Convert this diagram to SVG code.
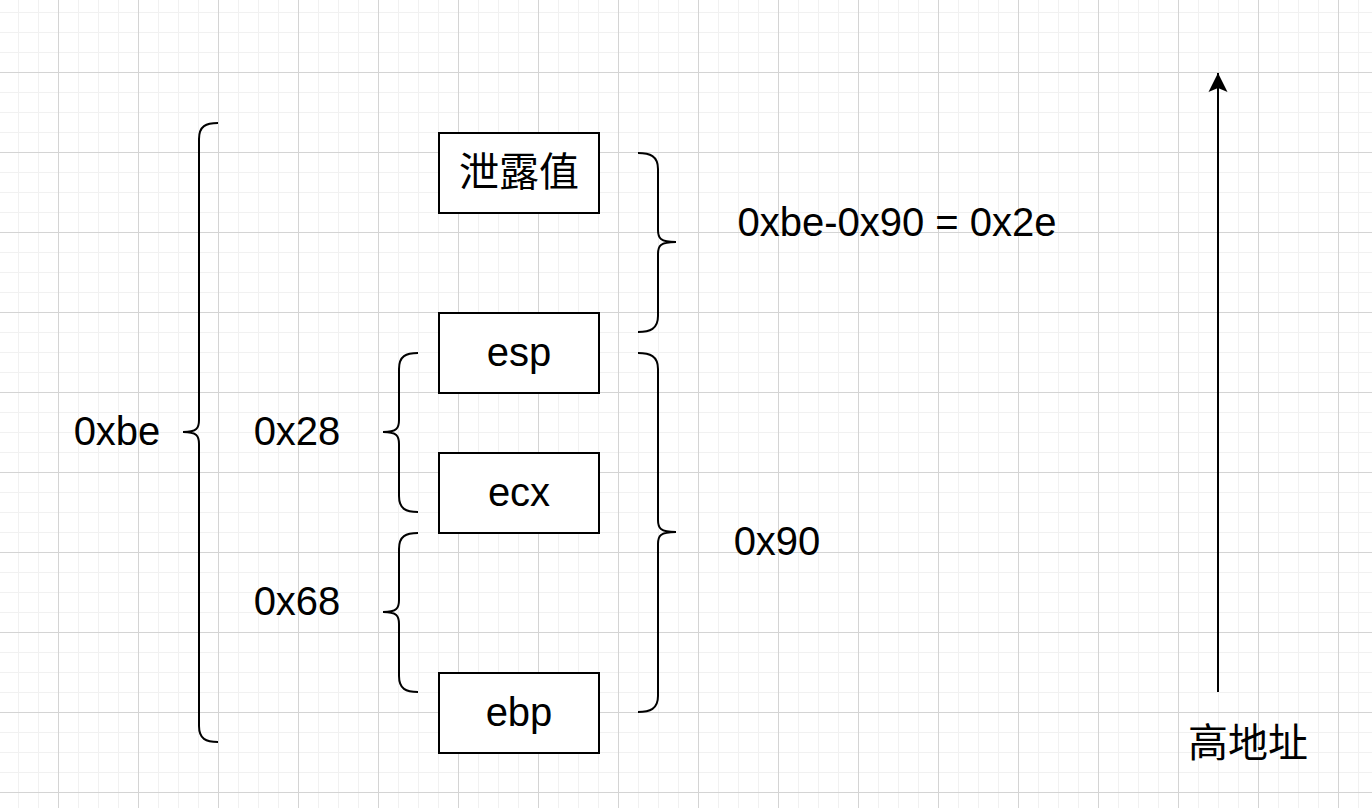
<svg xmlns="http://www.w3.org/2000/svg" width="1372" height="808" viewBox="0 0 1372 808">
  <defs>
    <pattern id="grid" patternUnits="userSpaceOnUse" x="58" y="72" width="80" height="80">
      <rect x="20" y="0" width="1" height="80" fill="#f1f1f1"/>
      <rect x="40" y="0" width="1" height="80" fill="#f1f1f1"/>
      <rect x="60" y="0" width="1" height="80" fill="#f1f1f1"/>
      <rect x="0" y="20" width="80" height="1" fill="#f1f1f1"/>
      <rect x="0" y="40" width="80" height="1" fill="#f1f1f1"/>
      <rect x="0" y="60" width="80" height="1" fill="#f1f1f1"/>
      <rect x="0" y="0" width="1" height="80" fill="#d4d4d4"/>
      <rect x="0" y="0" width="80" height="1" fill="#d4d4d4"/>
    </pattern>
    <marker id="arrow" markerUnits="userSpaceOnUse" markerWidth="24" markerHeight="24" viewBox="0 0 24 24" refX="20" refY="12" orient="auto">
      <path d="M20,12 L1,2.5 L5,12 L1,21.5 Z" fill="#000"/>
    </marker>
    <style>
      .box { fill: #fff; stroke: #000; stroke-width: 2; }
      .brace { fill: none; stroke: #000; stroke-width: 2; }
      .lbl { font-family: "Liberation Sans", Arial, sans-serif; font-size: 40px; fill: #000; text-anchor: middle; }
      .cjk { font-family: "Liberation Sans", "Noto Sans CJK SC", sans-serif; font-size: 40px; fill: #000; text-anchor: middle; }
    </style>
  </defs>
  <rect x="0" y="0" width="1372" height="808" fill="#fff"/>
  <rect x="0" y="0" width="1372" height="808" fill="url(#grid)"/>

  <g id="connectors">
    <path class="brace" d="M218,123 C206,123 199,126 199,139 L199,420 C199,428 197,432 183,432 C197,432 199,436 199,444 L199,726 C199,739 206,742 218,742"/>
    <path class="brace" d="M418,353 C406,353 399,356 399,369 L399,420 C399,428 397,432 383,432 C397,432 399,436 399,444 L399,496 C399,509 406,512 418,512"/>
    <path class="brace" d="M418,533 C406,533 399,536 399,549 L399,600 C399,608 397,612 383,612 C397,612 399,616 399,624 L399,676 C399,689 406,692 418,692"/>
    <path class="brace" d="M638,153 C650,153 658,156 658,169 L658,230 C658,238 660,242 676,242 C660,242 658,246 658,254 L658,316 C658,329 650,332 638,332"/>
    <path class="brace" d="M638,353 C650,353 658,356 658,369 L658,520 C658,528 660,532 676,532 C660,532 658,536 658,544 L658,696 C658,709 650,712 638,712"/>
    <line x1="1218" y1="692" x2="1218" y2="73" stroke="#000" stroke-width="2" marker-end="url(#arrow)"/>
  </g>

  <g id="node-leak">
    <rect class="box" x="439" y="133" width="160" height="80"/>
    <text class="cjk" x="519" y="186">泄露值</text>
  </g>
  <g id="node-esp">
    <rect class="box" x="439" y="313" width="160" height="80"/>
    <text class="lbl" x="519" y="366">esp</text>
  </g>
  <g id="node-ecx">
    <rect class="box" x="439" y="453" width="160" height="80"/>
    <text class="lbl" x="519" y="506">ecx</text>
  </g>
  <g id="node-ebp">
    <rect class="box" x="439" y="673" width="160" height="80"/>
    <text class="lbl" x="519" y="726">ebp</text>
  </g>
  <g id="label-0xbe">
    <text class="lbl" x="117" y="445">0xbe</text>
  </g>
  <g id="label-0x28">
    <text class="lbl" x="297" y="445">0x28</text>
  </g>
  <g id="label-0x68">
    <text class="lbl" x="297" y="615">0x68</text>
  </g>
  <g id="label-0x90">
    <text class="lbl" x="777" y="555">0x90</text>
  </g>
  <g id="label-diff">
    <text class="lbl" x="897" y="236">0xbe-0x90 = 0x2e</text>
  </g>
  <g id="label-high">
    <text class="cjk" x="1248" y="757">高地址</text>
  </g>
</svg>
